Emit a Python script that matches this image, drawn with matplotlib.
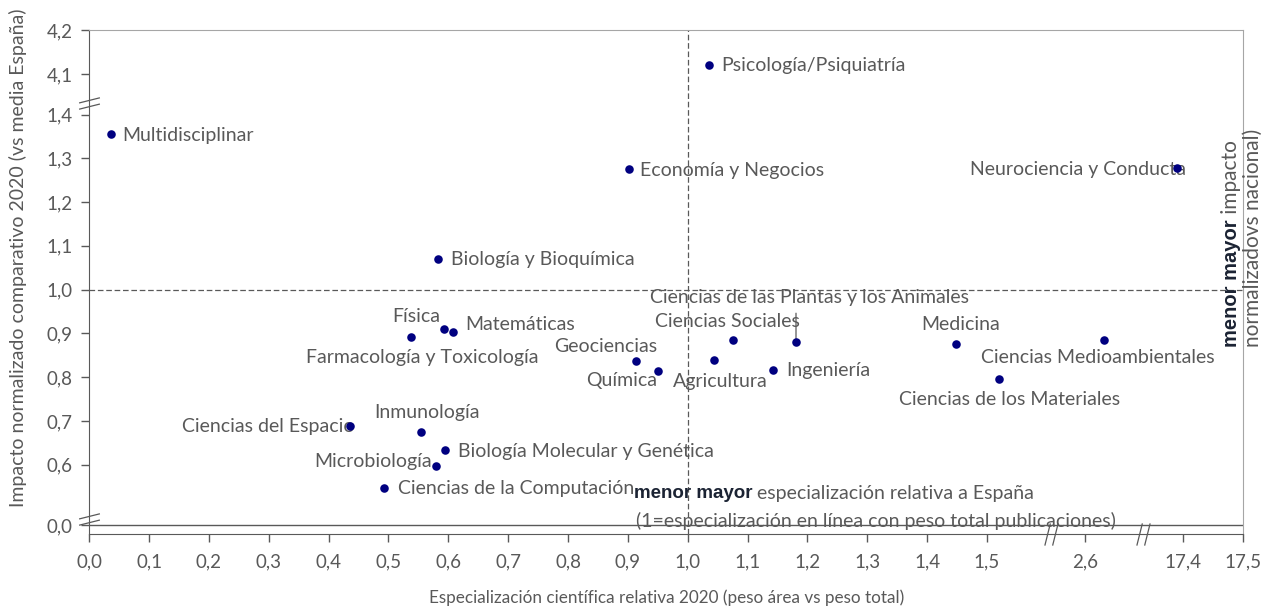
import matplotlib
matplotlib.use('Agg')
import matplotlib.pyplot as plt
import numpy as np
from matplotlib.path import Path
from matplotlib.transforms import blended_transform_factory

# datos
areas = ['Psicología/Psiquiatría', 'Multidisciplinar', 'Economía y Negocios',
         'Neurociencia y Conducta', 'Biología y Bioquímica', 'Física', 'Matemáticas',
         'Farmacología y Toxicología', 'Geociencias', 'Química', 'Agricultura',
         'Ciencias Sociales', 'Ciencias de las Plantas y los Animales', 'Ingeniería',
         'Medicina', 'Ciencias Medioambientales', 'Ciencias de los Materiales',
         'Ciencias del Espacio', 'Inmunología', 'Biología Molecular y Genética',
         'Microbiología', 'Ciencias de la Computación']
especializacion = [1.036, 0.037, 0.902, 17.39, 0.582, 0.593, 0.607,
                   0.538, 0.914, 0.951, 1.044,
                   1.076, 1.181, 1.143,
                   1.448, 2.632, 1.521,
                   0.436, 0.554, 0.595,
                   0.580, 0.492]
impacto = [4.121, 1.355, 1.275, 1.277, 1.071, 0.911, 0.904,
           0.893, 0.838, 0.815, 0.840,
           0.886, 0.880, 0.817,
           0.877, 0.886, 0.796,
           0.689, 0.675, 0.633,
           0.597, 0.546]

x_ticks = [0.0, 0.1, 0.2, 0.3, 0.4, 0.5, 0.6, 0.7, 0.8, 0.9, 1.0,
           1.1, 1.2, 1.3, 1.4, 1.5, 2.6, 17.4, 17.5]
y_ticks = [0.0, 0.6, 0.7, 0.8, 0.9, 1.0, 1.1, 1.2, 1.3, 1.4, 4.1, 4.2]

# ejes cortados: escala a trozos
x_knots = np.array([-1.0, 0.0, 1.6, 2.55, 2.68, 17.35, 17.5, 20.0])
x_units = np.array([-10.0, 0.0, 16.0, 16.14, 17.44, 17.78, 19.28, 44.28])
y_knots = np.array([-1.0, 0.0, 0.01, 0.48, 1.41, 4.05, 4.2, 5.0])
y_units = np.array([-11.373, -1.373, -1.273, -1.2, 8.1, 8.42, 9.93, 17.93])


def xf(v):
    return np.interp(v, x_knots, x_units)


def xi(u):
    return np.interp(u, x_units, x_knots)


def yf(v):
    return np.interp(v, y_knots, y_units)


def yi(u):
    return np.interp(u, y_units, y_knots)


# (dx, dy, ha) en pixeles
label_pos = {
    'Psicología/Psiquiatría': (12, -1, 'left'),
    'Multidisciplinar': (11, -1, 'left'),
    'Economía y Negocios': (11, -1, 'left'),
    'Neurociencia y Conducta': (9, -1, 'right'),
    'Biología y Bioquímica': (13, -1, 'left'),
    'Física': (-28, 12, 'center'),
    'Matemáticas': (13, 7, 'left'),
    'Farmacología y Toxicología': (11, -21, 'center'),
    'Geociencias': (-31, 14, 'center'),
    'Química': (-37, -10, 'center'),
    'Agricultura': (6, -22, 'center'),
    'Ciencias Sociales': (-6, 18, 'center'),
    'Ciencias de las Plantas y los Animales': (13, 45, 'center'),
    'Ingeniería': (13, -1, 'left'),
    'Medicina': (5, 19, 'center'),
    'Ciencias Medioambientales': (-6, -18, 'center'),
    'Ciencias de los Materiales': (10, -21, 'center'),
    'Ciencias del Espacio': (4, -1, 'right'),
    'Inmunología': (6, 19, 'center'),
    'Biología Molecular y Genética': (13, -1, 'left'),
    'Microbiología': (-4, 5, 'right'),
    'Ciencias de la Computación': (14, 0, 'left'),
}

plt.rcParams['font.family'] = ['Lato', 'DejaVu Sans']
gris = '#595959'
oscuro = '#1b2333'

fig = plt.figure(figsize=(12.7, 6.12), dpi=100)
ax = fig.add_axes([89.3 / 1270, 1 - 534 / 612, (1243 - 89.3) / 1270, (534 - 30) / 612])
ax.set_xscale('function', functions=(xf, xi))
ax.set_yscale('function', functions=(yf, yi))

ax.axvline(1.0, color=gris, lw=0.9, dashes=(4.5, 2.2))
ax.axhline(1.0, color=gris, lw=0.9, dashes=(4.5, 2.2))
ax.axhline(0.0, color=gris, lw=1)

ax.scatter(especializacion, impacto, s=38, color='#000080', zorder=5, linewidths=0)

for name, x, y in zip(areas, especializacion, impacto):
    dx, dy, ha = label_pos[name]
    ax.annotate(name, (x, y), xytext=(dx, dy), textcoords='offset pixels',
                ha=ha, va='center', fontsize=14, color=gris, zorder=4)
    if name == 'Ciencias de las Plantas y los Animales':
        ax.annotate('', (x, y), xytext=(0, 29), textcoords='offset pixels',
                    arrowprops=dict(arrowstyle='-', color=gris, lw=0.9,
                                    shrinkA=0, shrinkB=0))

ax.set_xlim(0.0, 17.5)
ax.set_ylim(yi(-1.58), 4.2)
ax.set_xticks(x_ticks)
ax.set_xticklabels([f'{t:.1f}'.replace('.', ',') for t in x_ticks])
ax.set_yticks(y_ticks)
ax.set_yticklabels([f'{t:.1f}'.replace('.', ',') for t in y_ticks])
ax.minorticks_off()
ax.tick_params(axis='both', colors=gris, labelsize=13.5, length=6, width=1)
ax.tick_params(axis='x', pad=8)
ax.tick_params(axis='y', pad=6)
for t in ax.get_xticklabels() + ax.get_yticklabels():
    t.set_color(gris)
ax.spines['left'].set_color(gris)
ax.spines['bottom'].set_color(gris)
ax.spines['top'].set_color('#a6a6a6')
ax.spines['right'].set_color('#a6a6a6')

# marcas de corte
y_slash = Path([(-1, -0.55), (1, -0.05), (-1, 0.05), (1, 0.55)],
               [Path.MOVETO, Path.LINETO, Path.MOVETO, Path.LINETO])
x_slash = Path([(-0.6, -1), (-0.1, 1), (0.1, -1), (0.6, 1)],
               [Path.MOVETO, Path.LINETO, Path.MOVETO, Path.LINETO])
ty = blended_transform_factory(ax.transAxes, ax.transData)
tx = blended_transform_factory(ax.transData, ax.transAxes)
for yb in [yi((y_units[2] + y_units[3]) / 2), yi((y_units[4] + y_units[5]) / 2)]:
    ax.plot([0], [yb], marker=y_slash, ms=15, mew=0.9, color=gris,
            transform=ty, clip_on=False, zorder=6)
for xb in [xi((x_units[2] + x_units[3]) / 2), xi((x_units[4] + x_units[5]) / 2)]:
    ax.plot([xb], [0], marker=x_slash, ms=16, mew=0.9, color=gris,
            transform=tx, clip_on=False, zorder=6)

# textos explicativos
t1 = ax.text(0.472, 0.0813, 'menor mayor', transform=ax.transAxes, fontsize=13.5,
             fontweight='bold', family='Liberation Sans', color=oscuro,
             ha='left', va='center')
ax.annotate(' especialización relativa a España', xy=(1, 0.5), xycoords=t1,
            ha='left', va='center', fontsize=14, color=gris)
ax.text(0.474, 0.0258, '(1=especialización en línea con peso total publicaciones)',
        transform=ax.transAxes, fontsize=14, color=gris, ha='left', va='center')

t2 = ax.text(0.9896, 0.371, 'menor mayor', transform=ax.transAxes, fontsize=14.5,
             fontweight='bold', family='Liberation Sans', color=oscuro,
             rotation=90, ha='center', va='bottom')
ax.annotate(' impacto', xy=(0.5, 1), xycoords=t2, rotation=90,
            ha='center', va='bottom', fontsize=15, color=gris)
ax.text(1.0087, 0.371, 'normalizadovs nacional)', transform=ax.transAxes,
        fontsize=15, color=gris, rotation=90, ha='center', va='bottom')

ax.set_xlabel('Especialización científica relativa 2020 (peso área vs peso total)',
              fontsize=12.3, color=gris, labelpad=14)
fig.text(18 / 1270, 1 - 258 / 612, 'Impacto normalizado comparativo 2020 (vs media España)',
         rotation=90, ha='center', va='center', fontsize=14, color=gris)

fig.savefig('out.png', dpi=100)
